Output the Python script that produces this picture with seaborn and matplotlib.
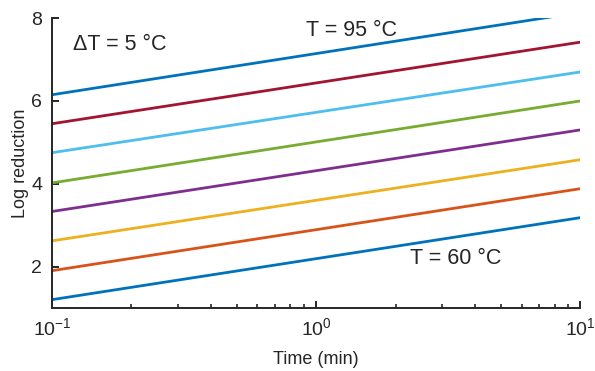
import numpy as np
import pandas as pd
import matplotlib
matplotlib.use("Agg")
import matplotlib.pyplot as plt
import seaborn as sns

# ---------- data ----------
temps = [60, 65, 70, 75, 80, 85, 90, 95]          # degC, dT = 5
times = [0.1, 10.0]                                # min
log_red_start = [1.20, 1.90, 2.62, 3.33, 4.02, 4.75, 5.45, 6.15]   # at t = 0.1 min
log_red_end = [3.18, 3.88, 4.58, 5.30, 6.00, 6.70, 7.42, 8.14]     # at t = 10 min
colors = ["#0072BD", "#D95319", "#EDB120", "#7E2F8E",
          "#77AC30", "#4DBEEE", "#A2142F", "#0072BD"]

rows = []
for T, a, b in zip(temps, log_red_start, log_red_end):
    rows.append({"T": T, "time": times[0], "logred": a})
    rows.append({"T": T, "time": times[1], "logred": b})
df = pd.DataFrame(rows)

# ---------- style ----------
sns.set_style("ticks")
plt.rcParams["font.family"] = ["Liberation Sans", "DejaVu Sans"]
plt.rcParams["mathtext.fontset"] = "custom"
plt.rcParams["mathtext.rm"] = "Liberation Sans"
plt.rcParams["mathtext.it"] = "Liberation Sans"

fig, ax = plt.subplots(figsize=(5.95, 3.71), dpi=100)
fig.subplots_adjust(left=0.0874, right=0.975, bottom=0.170, top=0.951)

sns.lineplot(data=df, x="time", y="logred", hue="T", palette=colors,
             linewidth=2.0, legend=False, ax=ax)

ax.set_xscale("log")
ax.set_xlim(0.1, 10)
ax.set_ylim(1, 8)
ax.set_yticks([2, 4, 6, 8])

for side in ["top", "right"]:
    ax.spines[side].set_visible(False)
for side in ["left", "bottom"]:
    ax.spines[side].set_linewidth(1.4)
    ax.spines[side].set_color("#262626")

ax.tick_params(axis="both", which="major", direction="in", length=5, width=1.4,
               color="#262626", labelsize=14, labelcolor="#262626", pad=7)
ax.tick_params(axis="x", which="minor", direction="in", length=3, width=1.2,
               color="#262626")
ax.tick_params(axis="y", which="minor", left=False)

ax.set_xlabel("Time (min)", fontsize=13, color="#262626", labelpad=8)
ax.set_ylabel("Log reduction", fontsize=13, color="#262626", labelpad=2)

ax.text(0.12, 7.37, "\u0394T = 5 \u00b0C", fontsize=15.5, va="center", ha="left")
ax.text(0.916, 7.71, "T = 95 \u00b0C", fontsize=15.5, va="center", ha="left")
ax.text(2.27, 2.19, "T = 60 \u00b0C", fontsize=15.5, va="center", ha="left")

fig.savefig("out.png", dpi=100)
